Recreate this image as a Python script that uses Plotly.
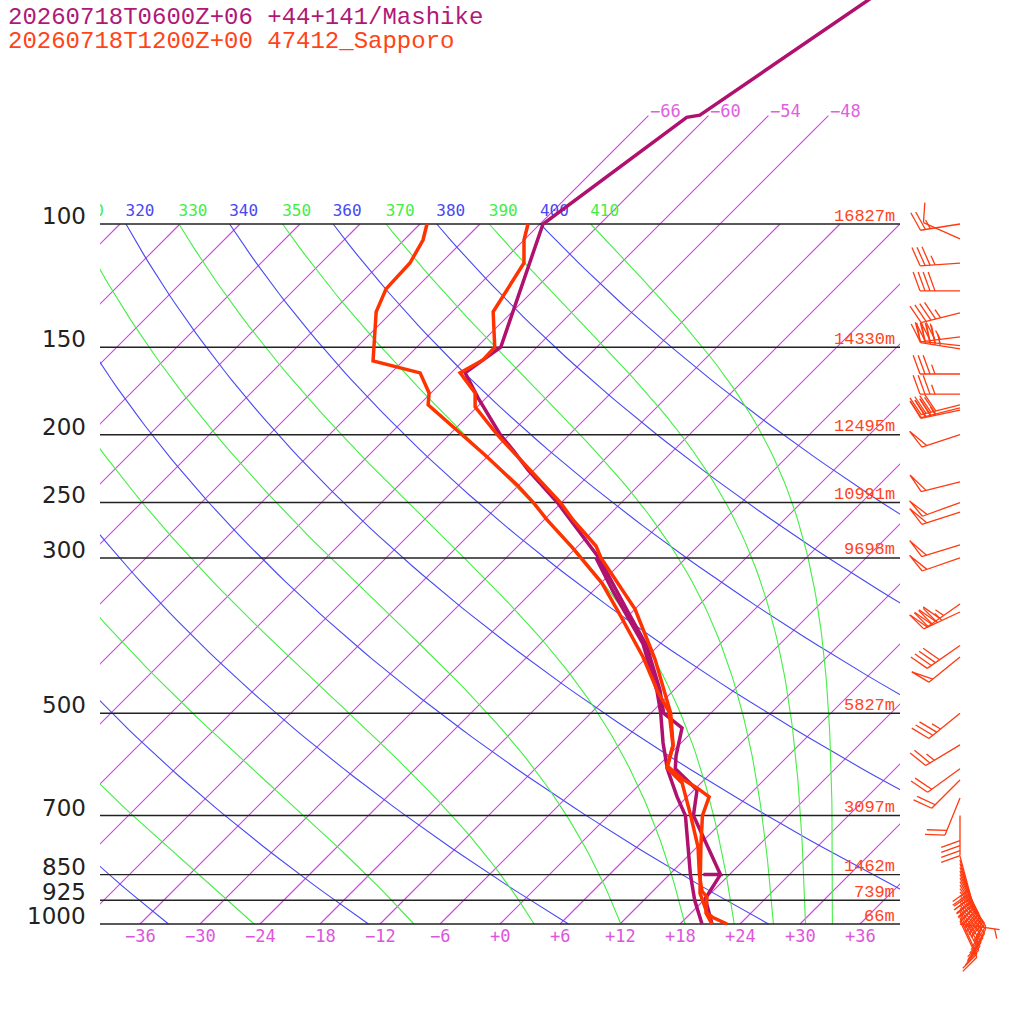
import numpy as np
import plotly.graph_objects as go

# 47412 Sapporo sounding, 2026-07-18 12Z (temperature / dew point, hPa and degC)
sapporo_p = [100, 105.4, 113.7, 124.3, 133.5, 150, 156.4, 163.2, 174.3, 182.5, 200, 224.6, 250,
             264.7, 288.4, 300, 354.8, 418.3, 500, 554.9, 594.5, 620.5, 639.1, 658.3, 700, 771.3,
             850, 903.1, 964.5, 977.2, 1000]
sapporo_t = [-67.2, -66.0, -63.7, -62.7, -61.9, -58.2, -58.1, -59.1, -55.6, -54.2, -49.2, -42.4, -36.1,
             -33.1, -28.2, -26.5, -18.0, -11.0, -4.0, -0.6, 0.9, 3.7, 6.1, 8.2, 9.4, 12.2,
             15.1, 16.9, 19.6, 20.5, 22.7]
sapporo_td_p = [100, 105.4, 113.7, 123.8, 133.5, 150, 156.9, 163.2, 174.3, 181.3, 198.2, 213.8, 235.9,
                250, 264.7, 289.4, 325.8, 357.2, 415.5, 466.3, 497.8, 556.7, 598.4, 628.7, 694.0,
                776.2, 850, 897.2, 915.1, 964.5, 1000]
sapporo_td = [-77.3, -76.1, -75.1, -74.9, -73.6, -70.3, -69.0, -63.1, -60.2, -59.1, -53.3, -48.4, -42.2,
              -38.8, -35.7, -30.5, -23.9, -19.5, -12.4, -7.4, -4.3, -0.5, 1.1, 4.1, 7.9,
              12.1, 15.0, 16.9, 18.0, 19.5, 21.2]

# +44+141 Mashike forecast, 2026-07-18 06Z
mashike_p = [46.3, 69.9, 70.4, 100, 150, 163.2, 177.2, 200, 210.3, 224.6, 250, 288.4, 300, 356.0,
             400, 463.2, 500, 524.8, 575.4, 600, 643.4, 700, 850, 850, 850, 920, 1000]
mashike_t = [-55.1, -60.9, -62.0, -65.7, -57.6, -58.6, -54.8, -48.9, -46.1, -42.6, -36.4, -28.8, -26.7, -18.7,
             -13.2, -7.4, -4.7, -1.4, 0.8, 2.0, 6.3, 8.5, 17.1, 15.4, 17.1, 18.0, 21.2]
mashike_td_p = [300, 334.5, 398.1, 464.7, 500, 551.2, 600, 658.3, 700, 784.1, 850, 925, 1000]
mashike_td = [-27.0, -22.0, -13.7, -7.6, -5.0, -1.8, 1.2, 5.0, 7.7, 11.4, 14.1, 17.1, 20.2]

# Sapporo winds (direction deg, speed kt)
wind_p = [100, 105, 113.7, 124.6, 134, 145, 149.2, 150.8, 163.8, 175, 181.3, 183.1, 184.4, 200, 233.6,
          250, 257.9, 287.4, 300, 349, 358.3, 400, 415.5, 500, 554.8, 600, 622.7, 660.7, 700,
          800, 810, 820, 830, 840, 850, 860, 870, 880, 890, 900, 910, 920, 930, 940, 950, 960, 970,
          980, 990, 1000]
wind_dir = [261, 294, 266, 270, 256, 263, 276, 279, 270, 270, 256, 256, 258, 252, 256,
            250, 252, 253, 251, 235, 245, 235, 231, 231, 239, 234, 225, 202, 180,
            165, 165, 162, 160, 158, 155, 152, 150, 148, 145, 142, 140, 140, 142, 145, 148, 150, 152,
            155, 155, 98]
wind_kt = [25, 10, 35, 40, 45, 45, 45, 45, 35, 35, 40, 40, 35, 50, 50,
           50, 50, 50, 50, 45, 45, 40, 50, 35, 25, 20, 20, 20, 40,
           20, 20, 20, 20, 20, 20, 20, 20, 20, 20, 20, 15, 15, 15, 15, 15, 15, 15,
           15, 15, 5]

levels = [100, 150, 200, 250, 300, 500, 700, 850, 925, 1000]
level_heights = [16827, 14330, 12495, 10991, 9698, 5827, 3097, 1462, 739, 66]
temp_ticks = list(range(-36, 37, 6))
isotherms = list(range(-108, 37, 6))
top_isotherms = [-66, -60, -54, -48]
dry_thetas = list(range(240, 401, 20))
moist_thetas = list(range(250, 411, 20))

title_mashike = "20260718T0600Z+06 +44+141/Mashike"
title_sapporo = "20260718T1200Z+00 47412_Sapporo"

MASHIKE = "#b0106e"
SAPPORO = "#ff3300"
ISO = "rgb(206, 68, 226)"
DRY = "rgb(72, 72, 242)"
MOIST = "rgb(68, 238, 68)"
TICK = "#dd55dd"


def skew(t, p):
    return np.asarray(t, dtype=float) + 70 * np.log10(1000 / np.asarray(p, dtype=float))


def py(p):
    return 924 - 700 * np.log10(1000 / p)


def px_to_data(xp, yp):
    return (xp - 500) / 10, 1000 * 10 ** (-(924 - yp) / 700)


def theta_e(t, p):
    tc = t - 273.15
    es = 6.112 * np.exp(17.67 * tc / (tc + 243.5))
    r = 622.0 * es / np.maximum(p - es, 1e-6)
    te = t * (1000 / p) ** (0.2854 * (1 - 0.00028 * r)) * np.exp((3.376 / t - 0.00254) * r * (1 + 0.00081 * r))
    return np.where(es < 0.5 * p, te, np.inf)


def moist_t(te, p):
    lo = np.full_like(p, 150.0)
    hi = np.full_like(p, 330.0)
    with np.errstate(all='ignore'):
        for _ in range(50):
            mid = (lo + hi) / 2
            big = theta_e(mid, p) > te
            hi = np.where(big, mid, hi)
            lo = np.where(big, lo, mid)
    return (lo + hi) / 2


def joined(curves):
    xs, ys = [], []
    for x, y in curves:
        xs += [float(v) for v in x] + [None]
        ys += [float(v) for v in y] + [None]
    return xs, ys


def barb(p, d, spd):
    xb, yb = 960, py(p)
    a = np.radians(d)
    ue, un = np.sin(a), np.cos(a)
    r = np.radians(-70)
    fe = ue * np.cos(r) - un * np.sin(r)
    fn = ue * np.sin(r) + un * np.cos(r)

    def at(k):
        return xb + (40 - k) * ue, yb - (40 - k) * un

    lines = [[(xb, yb), at(0)]]
    n50, rest = divmod(int(spd), 50)
    n10, n5 = rest // 10, (rest % 10) // 5
    k = 0
    for _ in range(n50):
        x0, y0 = at(k)
        lines.append([(x0, y0), (x0 + 20 * fe, y0 - 20 * fn), at(k + 5)])
        k += 6
    for _ in range(n10):
        x0, y0 = at(k)
        lines.append([(x0, y0), (x0 + 20 * fe, y0 - 20 * fn)])
        k += 5
    if n5:
        if k == 0:
            k = 5
        x0, y0 = at(k)
        lines.append([(x0, y0), (x0 + 10 * fe, y0 - 10 * fn)])
    return lines


pgrid = np.logspace(3, 2, 91)

iso_curves = []
for t in isotherms:
    ptop = 70 if t in top_isotherms else 100
    iso_curves.append(([skew(t, 1000), skew(t, ptop)], [1000, ptop]))
iso_x, iso_y = joined(iso_curves)
dry_x, dry_y = joined([(skew(th * (pgrid / 1000) ** 0.2857 - 273.15, pgrid), pgrid) for th in dry_thetas])
moist_curves = [moist_t(th, pgrid) - 273.15 for th in moist_thetas]
moist_x, moist_y = joined([(skew(t, pgrid), pgrid) for t in moist_curves])
lev_x, lev_y = joined([([-40, 40], [p, p]) for p in levels])

fig = go.Figure()
fig.add_trace(go.Scatter(x=iso_x, y=iso_y, mode='lines', line=dict(color=ISO, width=1.1), xaxis='x', yaxis='y'))
fig.add_trace(go.Scatter(x=dry_x, y=dry_y, mode='lines', line=dict(color=DRY, width=1.1), xaxis='x', yaxis='y'))
fig.add_trace(go.Scatter(x=moist_x, y=moist_y, mode='lines', line=dict(color=MOIST, width=1.1), xaxis='x', yaxis='y'))
fig.add_trace(go.Scatter(x=lev_x, y=lev_y, mode='lines', line=dict(color='#222222', width=1.4), xaxis='x', yaxis='y'))

# adiabat labels along 100 hPa, clipped at the left edge of the diagram
lab_x, lab_text, lab_col = [], [], []
for th in dry_thetas:
    if th >= 320:
        lab_x.append(float(skew(th * 0.1 ** 0.2857 - 273.15, 100)) + 1.4)
        lab_text.append(str(th))
        lab_col.append(DRY)
for th, t in zip(moist_thetas, moist_curves):
    if th >= 310:
        lab_x.append(float(skew(t[-1], 100)) + 1.4)
        lab_text.append(str(th))
        lab_col.append(MOIST)
fig.add_trace(go.Scatter(x=lab_x, y=[100 * 10 ** (-12 / 700)] * len(lab_x), mode='text', text=lab_text,
                         textfont=dict(family='DejaVu Sans Mono', size=16, color=lab_col),
                         textposition='middle center', cliponaxis=True, xaxis='x', yaxis='y'))

fig.add_trace(go.Scatter(x=skew(mashike_t, mashike_p), y=mashike_p, mode='lines',
                         line=dict(color=MASHIKE, width=3.5), xaxis='x2', yaxis='y2'))
fig.add_trace(go.Scatter(x=skew(mashike_td, mashike_td_p), y=mashike_td_p, mode='lines',
                         line=dict(color=MASHIKE, width=3.5), xaxis='x2', yaxis='y2'))
fig.add_trace(go.Scatter(x=skew(sapporo_td, sapporo_td_p), y=sapporo_td_p, mode='lines',
                         line=dict(color=SAPPORO, width=3.5), xaxis='x2', yaxis='y2'))
fig.add_trace(go.Scatter(x=skew(sapporo_t, sapporo_p), y=sapporo_p, mode='lines',
                         line=dict(color=SAPPORO, width=3.5), xaxis='x2', yaxis='y2'))

bx, by = [], []
for p, d, s in zip(wind_p, wind_dir, wind_kt):
    for seg in barb(p, d, s):
        for xp, yp in seg:
            X, P = px_to_data(xp, yp)
            bx.append(float(X))
            by.append(float(P))
        bx.append(None)
        by.append(None)
fig.add_trace(go.Scatter(x=bx, y=by, mode='lines', line=dict(color='#ff3a10', width=1.3),
                         xaxis='x2', yaxis='y2'))

ann = []
for p, h in zip(levels, level_heights):
    ann.append(dict(x=-41.2, y=np.log10(p), xref='x2', yref='y2', text=str(p), showarrow=False,
                    xanchor='right', yanchor='middle', yshift=8,
                    font=dict(family='DejaVu Sans', size=23, color='#222222')))
    ann.append(dict(x=39.7, y=np.log10(p), xref='x2', yref='y2', text=f"{h}m", showarrow=False,
                    xanchor='right', yanchor='middle', yshift=8,
                    font=dict(family='Liberation Mono', size=17, color='#ff4422')))
for t in temp_ticks:
    ann.append(dict(x=t, y=3, xref='x2', yref='y2', text=f"{t:+d}".replace('-', '\u2212'), showarrow=False,
                    xanchor='center', yanchor='middle', yshift=-12,
                    font=dict(family='DejaVu Sans Mono', size=17, color=TICK)))
for t in top_isotherms:
    ann.append(dict(x=float(skew(t, 70)), y=np.log10(70), xref='x2', yref='y2',
                    text=f"{t:d}".replace('-', '\u2212'), showarrow=False,
                    xanchor='left', yanchor='middle', yshift=5,
                    font=dict(family='DejaVu Sans Mono', size=17, color='#e060e0')))
ann.append(dict(x=6 / 1024, y=1 - 17 / 1024, xref='paper', yref='paper', text=title_mashike, showarrow=False,
                xanchor='left', yanchor='middle', font=dict(family='Liberation Mono', size=24, color='#b01878')))
ann.append(dict(x=6 / 1024, y=1 - 41 / 1024, xref='paper', yref='paper', text=title_sapporo, showarrow=False,
                xanchor='left', yanchor='middle', font=dict(family='Liberation Mono', size=24, color='#ff4418')))

yr = [3 + 100 / 700, 3 - 924 / 700]
fig.update_layout(
    width=1024, height=1024, margin=dict(l=0, r=0, t=0, b=0),
    paper_bgcolor='white', plot_bgcolor='rgba(0,0,0,0)', showlegend=False,
    xaxis=dict(domain=[100 / 1024, 900 / 1024], range=[-40, 40], visible=False, anchor='y'),
    yaxis=dict(type='log', range=yr, visible=False, anchor='x'),
    xaxis2=dict(domain=[0, 1], range=[-50, 52.4], visible=False, anchor='y2'),
    yaxis2=dict(type='log', range=yr, visible=False, anchor='x2'),
    annotations=ann,
)

fig.write_html("out.html", config={'displayModeBar': False},
               post_script="document.body.style.margin = '0px';")
